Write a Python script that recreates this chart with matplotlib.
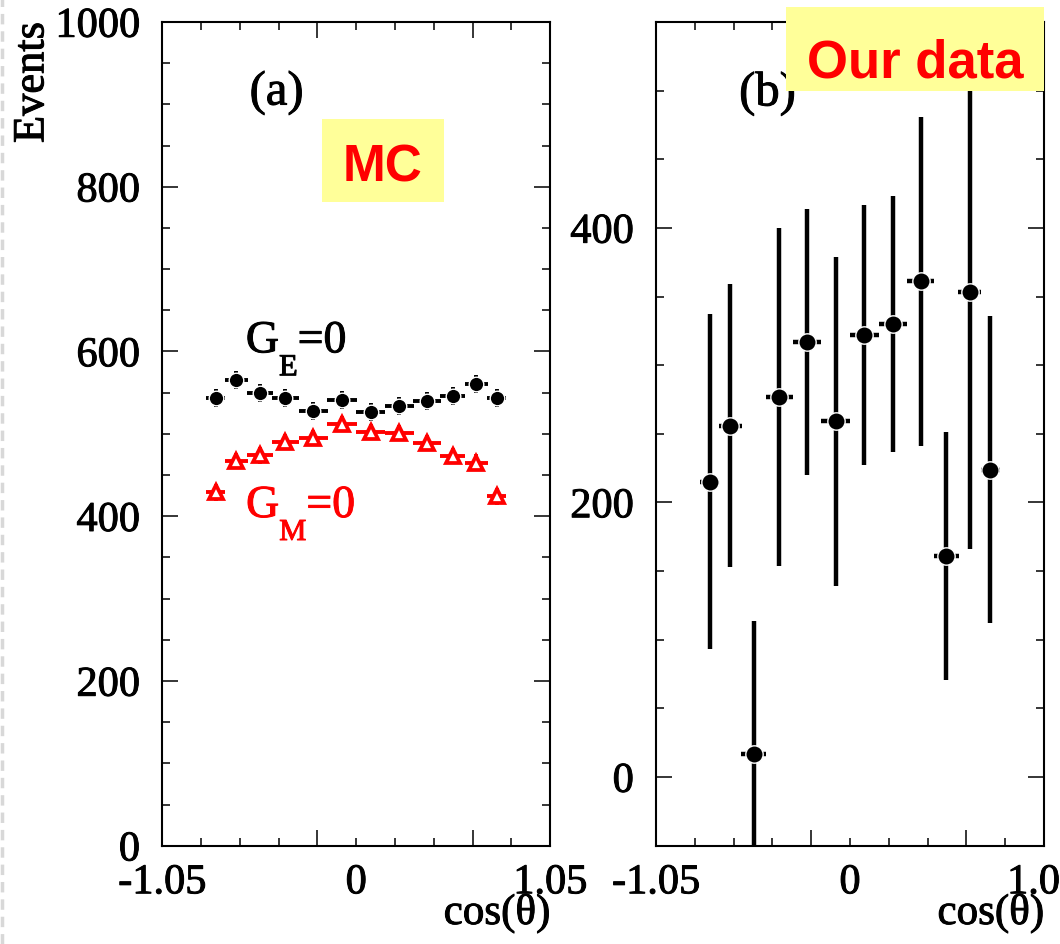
import matplotlib
matplotlib.use('Agg')
import matplotlib.pyplot as plt
import matplotlib.patheffects as pe
from matplotlib.text import Text
from matplotlib.patches import Rectangle
from matplotlib.lines import Line2D
from matplotlib.ticker import FixedLocator, MultipleLocator

plt.rcParams['font.family'] = ['Liberation Serif', 'DejaVu Serif']

# bin centres and half widths in cos(theta)
cos_bins = [-0.760, -0.649, -0.522, -0.383, -0.233, -0.078,
            0.078, 0.233, 0.383, 0.522, 0.649, 0.760]
cos_halfw = [0.052, 0.062, 0.069, 0.074, 0.078, 0.080,
             0.080, 0.078, 0.074, 0.069, 0.062, 0.052]

# (a) MC samples
mc_ge0 = [543, 565, 550, 544, 528, 541, 527, 534, 540, 546, 561, 543]
mc_ge0_err = [11, 11, 11, 11, 11, 11, 11, 11, 11, 11, 11, 11]
mc_gm0 = [429, 467, 474, 490, 495, 512, 502, 501, 489, 473, 465, 424]
mc_gm0_err = [10, 10, 10, 10, 10, 10, 10, 10, 10, 10, 10, 10]

# (b) our data
data_y = [215, 256, 17, 277, 317, 259, 322, 330, 361, 161, 353, 224]
data_err = [122, 103, 97, 123, 97, 120, 95, 93, 120, 90, 187, 112]

xtick_pos = [-1.05, 0, 1.05]
xtick_lab = ['-1.05', '0', '1.05']
ytick_a = [0, 200, 400, 600, 800, 1000]
ytick_b = [0, 200, 400]

W, H = 1060, 945
fig = plt.figure(figsize=(W / 100, H / 100), dpi=100)
bottom = (H - 846.7) / H
height = 823.7 / H
axA = fig.add_axes([162.2 / W, bottom, 388 / W, height])
axB = fig.add_axes([656 / W, bottom, 388 / W, height])


def style(ax, yticks):
    for s in ax.spines.values():
        s.set_linewidth(1.5)
    ax.set_xlim(-1.05, 1.05)
    ax.xaxis.set_major_locator(FixedLocator([-0.21, 0.63]))
    ax.xaxis.set_minor_locator(MultipleLocator(0.21))
    ax.set_yticks(yticks, labels=[str(v) for v in yticks])
    ax.yaxis.set_minor_locator(MultipleLocator(50))
    ax.tick_params(which='both', direction='in', top=True, right=True, width=1.1)
    ax.tick_params(which='major', length=11.3)
    ax.tick_params(which='minor', length=5.8)
    ax.tick_params(axis='x', labelbottom=False)
    ax.tick_params(axis='y', labelsize=30.5, pad=16)
    sec = ax.secondary_xaxis('bottom')
    sec.set_xticks(xtick_pos, labels=xtick_lab)
    sec.tick_params(length=0, pad=13, labelsize=30.5)
    sec.spines['bottom'].set_visible(False)
    ax.set_xlabel('cos(θ)', fontsize=31, ha='right', va='top')
    ax.xaxis.set_label_coords(1.0, -0.0586)


def sub_label(ax, x, y, main, sub, tail, color):
    t1 = ax.text(x, y, main, fontsize=33, color=color, ha='left', va='baseline')
    t2 = ax.annotate(sub, xy=(1, 0), xycoords=t1, xytext=(0, 6.5),
                     textcoords='offset points', fontsize=22, color=color,
                     ha='left', va='top')
    ax.annotate(tail, xy=(1, 0), xycoords=(t2, t1), fontsize=33, color=color,
                ha='left', va='bottom')


# panel (a)
style(axA, ytick_a)
axA.set_ylim(0, 1000)
axA.errorbar(cos_bins, mc_ge0, xerr=cos_halfw, yerr=mc_ge0_err, fmt='o',
             color='black', mfc='black', mec='white', ms=10.5, mew=1.0,
             elinewidth=2.8, capsize=0)
axA.errorbar(cos_bins, mc_gm0, xerr=cos_halfw, yerr=mc_gm0_err, fmt='^',
             color='red', ecolor='red', mfc='white', mec='red', ms=9.5, mew=2.7,
             elinewidth=2.8, capsize=0)
axA.text(-0.43, 914, '(a)', fontsize=35, ha='center', va='center')
sub_label(axA, -0.597, 599, 'G', 'E', '=0', 'black')
sub_label(axA, -0.596, 399, 'G', 'M', '=0', 'red')
axA.set_ylabel('Events', fontsize=32, ha='right', va='baseline')
axA.yaxis.set_label_coords(-0.3064, 1.0)

# panel (b)
style(axB, ytick_b)
axB.set_ylim(-50, 550)
axB.errorbar(cos_bins, data_y, xerr=cos_halfw, yerr=data_err, fmt='o',
             color='black', mfc='black', mec='white', ms=12.5, mew=1.0,
             elinewidth=3.2, capsize=0)
axB.text(-0.446, 498, '(b)', fontsize=35, ha='center', va='center')

# yellow tags
fig.add_artist(Rectangle((322.3 / W, (H - 203.3) / H), 121.7 / W, 83.3 / H,
                         transform=fig.transFigure, facecolor='#ffff99',
                         edgecolor='none', zorder=5))
fig.text(383 / W, (H - 181.7) / H, 'MC', family='Liberation Sans', weight='bold',
         fontsize=37, color='#ff0000', ha='center', va='baseline', zorder=6)
fig.add_artist(Rectangle((786 / W, (H - 91.7) / H), 257.7 / W, 83.7 / H,
                         transform=fig.transFigure, facecolor='#ffff99',
                         edgecolor='none', zorder=5))
fig.text(915 / W, (H - 78) / H, 'Our data', family='Liberation Sans', weight='bold',
         fontsize=38, color='#ff0000', ha='center', va='baseline', zorder=6)

# faint page edge on the far left
fig.add_artist(Line2D([1.5 / W, 1.5 / W], [0, 1], transform=fig.transFigure,
                      color='#d8d8d8', lw=2.5, ls=(0, (3, 2))))

# the serif text in the original is rendered a little heavier
fig.canvas.draw()
for t in fig.findobj(Text):
    if t.get_fontfamily()[0] == 'Liberation Serif' and t.get_text():
        t.set_path_effects([pe.withStroke(linewidth=0.7, foreground=t.get_color())])

fig.savefig('out.png', dpi=100)
